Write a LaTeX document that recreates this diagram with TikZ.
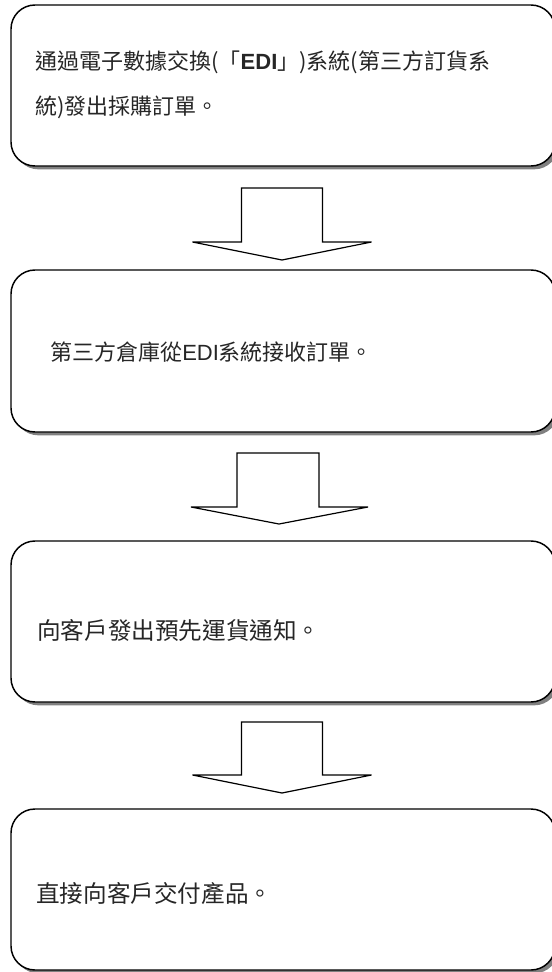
\documentclass[tikz,border=0pt]{standalone}
\usepackage{fontspec}
\setmainfont{Liberation Sans}
\newfontfamily\cjk{Noto Sans CJK TC}
\usetikzlibrary{shadows}

\begin{document}
\begin{tikzpicture}[x=0.75pt, y=-0.75pt,
  stepbox/.style={draw=black, line width=1.1pt, fill=white, rounded corners=18pt,
    minimum width=408pt, minimum height=120.75pt, inner sep=0pt,
    drop shadow={shadow xshift=2.5pt, shadow yshift=-2.5pt, fill=black!50, opacity=1}},
  steptext/.style={anchor=west, inner sep=0pt, align=left, text=black!85,
    font=\fontsize{16.5pt}{33.75pt}\selectfont\cjk},
  bigtext/.style={steptext, font=\fontsize{17.7pt}{33.75pt}\selectfont\cjk},
  blockarr/.style={draw=black, line width=0.9pt, fill=white, line join=miter}]
%\draw[step=50,gray,very thin] (0,0) grid (552,972);
\useasboundingbox (0,0) rectangle (552,972);

\node[stepbox] (box1) at (283,85.5) {};
\node[steptext] (txt1) at (35,84.5) {通過電子數據交換(「{\rmfamily\bfseries EDI}」)系統(第三方訂貨系\\統)發出採購訂單。};

\coordinate (tip1) at (282,260);
\draw[blockarr] (tip1) -- ++(-89.5,-18) -- ++(49,0) -- ++(0,-54) -- ++(81,0) -- ++(0,54) -- ++(49,0) -- cycle;

\node[stepbox, minimum height=121.5pt] (box2) at (283,351) {};
\node[steptext] (txt2) at (50,352) {第三方倉庫從{\rmfamily EDI}系統接收訂單。};

\coordinate (tip2) at (279,524);
\draw[blockarr] (tip2) -- ++(-88,-17) -- ++(46,0) -- ++(0,-54) -- ++(82,0) -- ++(0,54) -- ++(49,0) -- cycle;

\node[stepbox] (box3) at (283,621.5) {};
\node[bigtext] (txt3) at (37,630) {向客戶發出預先運貨通知。};

\coordinate (tip3) at (282,793);
\draw[blockarr] (tip3) -- ++(-89.5,-18) -- ++(49,0) -- ++(0,-53) -- ++(81,0) -- ++(0,53) -- ++(49,0) -- cycle;

\node[stepbox] (box4) at (283,889.5) {};
\node[bigtext] (txt4) at (36,894) {直接向客戶交付產品。};

\end{tikzpicture}
\end{document}
